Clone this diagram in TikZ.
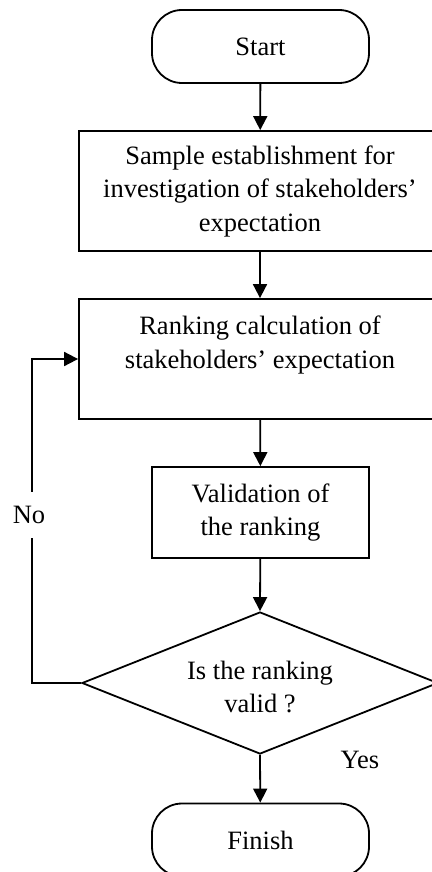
\documentclass[tikz,border=0pt]{standalone}
\usepackage{fontspec}
\setmainfont{Liberation Serif}
\usetikzlibrary{arrows.meta,shapes.geometric}
\begin{document}
\begin{tikzpicture}[x=1pt,y=-1pt,
  every node/.style={font=\fontsize{26.5}{33.5}\selectfont},
  terminal/.style={draw,line width=1.8pt,rounded corners=30pt,minimum width=217pt,minimum height=73pt,inner sep=0pt},
  process/.style={draw,line width=1.8pt,align=center,inner sep=0pt},
  decision/.style={draw,line width=1.8pt,diamond,aspect=2.5,minimum width=356pt,minimum height=142pt,inner sep=0pt},
  flow/.style={line width=1.8pt,-{Triangle[length=14pt,width=14pt]}},
  tag/.style={fill=white,inner xsep=2pt,inner ysep=14pt}]
\useasboundingbox (0,0) rectangle (431,872);

\node[terminal] (start) at (260.5,46.5) {Start};
\node[process,minimum width=362pt,minimum height=120pt] (sample) at (260,191)
  {Sample establishment for\\investigation of stakeholders'\\expectation};
\node[process,minimum width=362pt,minimum height=120pt] (rank) at (260,359)
  {Ranking calculation of\\stakeholders' expectation\\~};
\node[process,minimum width=217pt,minimum height=91pt] (valid) at (260.5,512.5)
  {Validation of\\the ranking};
\node[decision] (check) at (260,683) {};
\node[align=center] (question) at (260,687) {Is the ranking\\valid ?};
\node[terminal] (finish) at (260.5,840) {Finish};

\draw[flow] (start) -- (sample);
\draw[flow] (sample) -- (rank);
\draw[flow] (rank) -- (valid);
\draw[flow] (valid) -- (check.north);
\draw[flow] (check.south) -- (finish);

\coordinate (loopbottom) at (32,683);
\coordinate (looptop) at (32,359);
\draw[flow] (check.west) -- (loopbottom) -- (looptop) -- (rank.west);
\node[tag] (no) at (29,515) {No};
\node (yes) at (360,760) {Yes};
\end{tikzpicture}
\end{document}
